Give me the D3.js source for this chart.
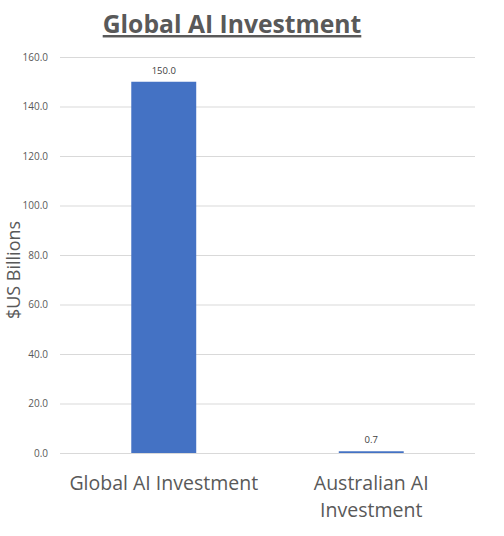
<!DOCTYPE html>
<html><head><meta charset="utf-8">
<script src="https://cdn.jsdelivr.net/npm/d3@7"></script>
<style>body{margin:0;background:#fff;} svg{display:block;}</style>
</head><body>
<svg id="c" width="504" height="536"></svg>
<script>
const categories = [["Global AI Investment"], ["Australian AI", "Investment"]];
const categoryKeys = ["Global AI Investment", "Australian AI Investment"];
const values = [150.0, 0.7];
const yTicks = [0, 20, 40, 60, 80, 100, 120, 140, 160];
const title = "Global AI Investment";
const yLabel = "$US Billions";

(function () {
const svg = d3.select("#c");
const font = "'Open Sans', 'Noto Sans', sans-serif";
const pL = 60, pR = 475, pT = 57, pB = 453;

const x = d3.scaleBand().domain(categoryKeys).range([pL, pR]).paddingInner(0.687).paddingOuter(0.3435);
const y = d3.scaleLinear().domain([0, 160]).range([pB, pT]);

svg.append("g").selectAll("line").data(yTicks).join("line")
  .attr("x1", pL).attr("x2", pR)
  .attr("y1", d => y(d) + 0.5).attr("y2", d => y(d) + 0.5)
  .attr("stroke", "#d9d9d9").attr("stroke-width", 1);

svg.append("g").selectAll("text").data(yTicks).join("text")
  .attr("x", pL - 12).attr("y", d => y(d) + 3.5)
  .attr("text-anchor", "end").attr("font-family", font).attr("font-size", 10)
  .attr("fill", "#595959").text(d => d.toFixed(1));

svg.append("g").selectAll("rect").data(values).join("rect")
  .attr("x", (d, i) => x(categoryKeys[i]))
  .attr("width", x.bandwidth())
  .attr("y", d => y(d))
  .attr("height", d => Math.max(1.5, pB - y(d)))
  .attr("fill", "#4472c4");

svg.append("g").selectAll("text").data(values).join("text")
  .attr("x", (d, i) => x(categoryKeys[i]) + x.bandwidth() / 2)
  .attr("y", d => y(d) - 8)
  .attr("text-anchor", "middle").attr("font-family", font).attr("font-size", 9.5)
  .attr("fill", "#404040").text(d => d.toFixed(1));

categories.forEach((lines, i) => {
  const cx = x(categoryKeys[i]) + x.bandwidth() / 2;
  const t = svg.append("text")
    .attr("x", cx).attr("y", 490)
    .attr("text-anchor", "middle").attr("font-family", font).attr("font-size", 19.5)
    .attr("fill", "#595959");
  lines.forEach((l, j) => t.append("tspan").attr("x", cx)
    .attr("dy", j === 0 ? 0 : 27).text(l));
});

svg.append("text")
  .attr("transform", "translate(20,270) rotate(-90)")
  .attr("text-anchor", "middle").attr("font-family", font).attr("font-size", 18)
  .attr("fill", "#595959").text(yLabel);

svg.append("text")
  .attr("x", 232).attr("y", 33)
  .attr("text-anchor", "middle").attr("font-family", font).attr("font-size", 24.7)
  .attr("font-weight", "bold").attr("fill", "#595959")
  .attr("text-decoration", "underline").text(title);
})();
</script>
</body></html>
